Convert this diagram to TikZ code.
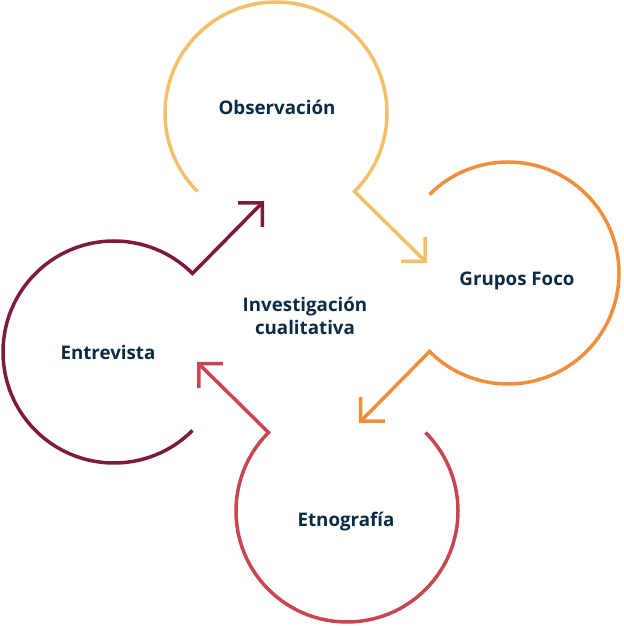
\documentclass[tikz,border=0pt]{standalone}
\usepackage{fontspec}
\setmainfont{Open Sans}
\usetikzlibrary{arrows.meta}
\definecolor{cyel}{HTML}{F1C069}
\definecolor{corg}{HTML}{EF8E3B}
\definecolor{cred}{HTML}{C84652}
\definecolor{cmar}{HTML}{7D1A3D}
\definecolor{txt}{HTML}{0B2A44}
\begin{document}
\begin{tikzpicture}[x=1bp,y=1bp,
  ring/.style={line width=3.5bp, line join=miter, line cap=butt,
    -{Straight Barb[length=17bp,width=34bp]}},
  lbl/.style={font=\fontsize{18.8}{23}\selectfont\bfseries, text=txt, align=center}]
\useasboundingbox (0,0) rectangle (624,626);
% circle centres
\coordinate (cO) at (276,513);
\coordinate (cG) at (508,353);
\coordinate (cE) at (347,115);
\coordinate (cV) at (114,274);
% arrow tips
\coordinate (tO) at (427,363);
\coordinate (tG) at (359,203);
\coordinate (tE) at (197,264);
\coordinate (tV) at (264,425);
% labels
\node[lbl] (obs) at (277,519) {Observación};
\node[lbl] (gru) at (517,345) {Grupos Foco};
\node[lbl] (etn) at (346,104) {Etnografía};
\node[lbl] (ent) at (108,274) {Entrevista};
\node[lbl] (inv) at (305,310) {Investigación\\cualitativa};
% rings with arrows
\draw[ring, cyel] ([shift={(225:111)}]cO) arc[start angle=225, end angle=-45, radius=111] -- (tO);
\draw[ring, corg] ([shift={(135:111)}]cG) arc[start angle=135, end angle=-135, radius=111] -- (tG);
\draw[ring, cred] ([shift={(45:111)}]cE) arc[start angle=45, end angle=-225, radius=111] -- (tE);
\draw[ring, cmar] ([shift={(-45:111)}]cV) arc[start angle=-45, end angle=-315, radius=111] -- (tV);
\end{tikzpicture}
\end{document}
